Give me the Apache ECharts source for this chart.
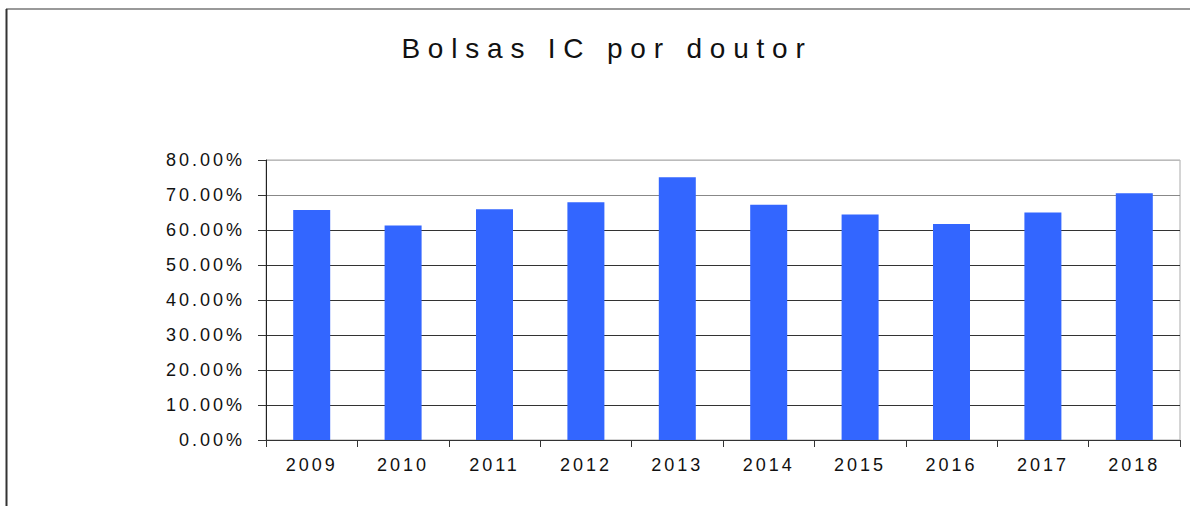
<!DOCTYPE html>
<html>
<head>
<meta charset="utf-8">
<script src="https://cdn.jsdelivr.net/npm/echarts@6/dist/echarts.min.js"></script>
<style>
  html, body { margin: 0; padding: 0; background: #fff; }
  #chart { width: 1190px; height: 506px; }
  #chart text { letter-spacing: 3px; }
</style>
</head>
<body>
<div id="chart"></div>
<script>
const titleText = 'Bolsas IC por doutor';
const categories = ['2009','2010','2011','2012','2013','2014','2015','2016','2017','2018'];
const values = [65.7, 61.3, 65.9, 67.9, 75.1, 67.2, 64.4, 61.7, 65.0, 70.5];
const yMin = 0, yMax = 80, yInterval = 10;

const chart = echarts.init(document.getElementById('chart'), null, { renderer: 'svg' });
chart.setOption({
  animation: false,
  backgroundColor: '#fff',
  title: {
    text: titleText,
    left: 'center',
    top: 29,
    textStyle: { fontFamily: 'Liberation Sans', fontSize: 28, fontWeight: 'normal', color: '#111' }
  },
  graphic: [
    { type: 'line', shape: { x1: 6, y1: 9, x2: 1190, y2: 9 }, style: { stroke: '#999', lineWidth: 2 } },
    { type: 'line', shape: { x1: 6.5, y1: 9, x2: 6.5, y2: 506 }, style: { stroke: '#333', lineWidth: 2 } }
  ],
  grid: { left: 266, right: 10, top: 160, bottom: 66, show: true, borderColor: '#aaa', borderWidth: 1, backgroundColor: 'transparent' },
  xAxis: {
    type: 'category',
    data: categories,
    axisLine: { lineStyle: { color: '#333', width: 1 } },
    axisTick: { show: true, length: 7, lineStyle: { color: '#333' } },
    axisLabel: { fontFamily: 'Liberation Sans', fontSize: 18, color: '#111', margin: 16 }
  },
  yAxis: {
    type: 'value',
    min: yMin, max: yMax, interval: yInterval,
    axisLine: { show: true, lineStyle: { color: '#222', width: 1 } },
    axisTick: { show: true, length: 8, lineStyle: { color: '#333' } },
    axisLabel: { fontFamily: 'Liberation Sans', fontSize: 18, color: '#111', margin: 21,
      formatter: v => v.toFixed(2) + '%' },
    splitLine: { show: true, lineStyle: { color: ['#333','#333','#333','#333','#333','#333','#333','#888','#bbb'], width: 1 } }
  },
  series: [{
    type: 'bar',
    data: values,
    barWidth: 37,
    itemStyle: { color: '#3366FF' }
  }]
});

function fixTitle() {
  document.querySelectorAll('#chart text').forEach(t => {
    if (t.textContent === titleText) {
      t.style.letterSpacing = '7.8px';
      t.setAttribute('dx', '12');
    }
  });
}
fixTitle();
setTimeout(fixTitle, 50);
</script>
</body>
</html>
